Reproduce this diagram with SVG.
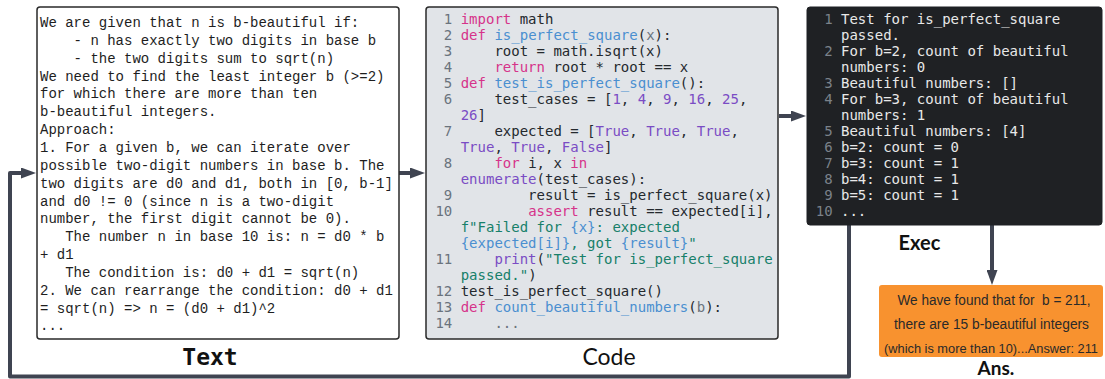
<svg xmlns="http://www.w3.org/2000/svg" width="1105" height="379" viewBox="0 0 1105 379">
<style>
.panel{stroke:#2a2a2a;stroke-width:1.5}
.mono{font-family:"Liberation Mono","DejaVu Sans Mono",monospace;font-size:14px;fill:#1e1e1e;white-space:pre}
.code{font-family:"DejaVu Sans Mono","Liberation Mono",monospace;font-size:14px;fill:#24292e;white-space:pre}
.ln{fill:#6a737d;text-anchor:end}
.kw{fill:#d6338a}
.fn{fill:#4a8fd0}
.nm{fill:#7a4cc4}
.st{fill:#17806a}
.ip{fill:#4a8fd0}
.pm{fill:#6a737d}
.ex{font-family:"DejaVu Sans Mono","Liberation Mono",monospace;font-size:14px;fill:#e8e8e8;white-space:pre}
.exln{fill:#7b828a;text-anchor:end}
.lbl{text-anchor:middle;fill:#111}
.ans{font-family:"Liberation Sans",Arial,sans-serif;font-size:14px;fill:#2a2a2a;text-anchor:middle;white-space:pre}
.conn{fill:none;stroke:#3f4451;stroke-width:4;stroke-linejoin:round;marker-end:url(#ah)}
</style>
<defs>
<marker id="ah" markerUnits="userSpaceOnUse" viewBox="0 0 15 11" refX="8" refY="5.5" markerWidth="15" markerHeight="11" orient="auto">
<path d="M0,0 L15,5.5 L0,11 z" fill="#3f4451"/>
</marker>
</defs>

<g id="connectors">
<path class="conn" d="M399,173 H418"/>
<path class="conn" d="M779,116 H799"/>
<path class="conn" d="M992,225 V278"/>
<path class="conn" d="M849,225 V376.5 H10 V173 H29"/>
</g>

<g id="text-node">
<rect class="panel" x="37" y="7" width="362" height="332" rx="3" fill="#ffffff"/>
<text class="mono" x="40" y="27">We are given that n is b-beautiful if:</text>
<text class="mono" x="40" y="44.85">    - n has exactly two digits in base b</text>
<text class="mono" x="40" y="62.7">    - the two digits sum to sqrt(n)</text>
<text class="mono" x="40" y="80.55">We need to find the least integer b (&gt;=2)</text>
<text class="mono" x="40" y="98.4">for which there are more than ten</text>
<text class="mono" x="40" y="116.25">b-beautiful integers.</text>
<text class="mono" x="40" y="134.1">Approach:</text>
<text class="mono" x="40" y="151.95">1. For a given b, we can iterate over</text>
<text class="mono" x="40" y="169.8">possible two-digit numbers in base b. The</text>
<text class="mono" x="40" y="187.65">two digits are d0 and d1, both in [0, b-1]</text>
<text class="mono" x="40" y="205.5">and d0 != 0 (since n is a two-digit</text>
<text class="mono" x="40" y="223.35">number, the first digit cannot be 0).</text>
<text class="mono" x="40" y="241.2">   The number n in base 10 is: n = d0 * b</text>
<text class="mono" x="40" y="259.05">+ d1</text>
<text class="mono" x="40" y="276.9">   The condition is: d0 + d1 = sqrt(n)</text>
<text class="mono" x="40" y="294.75">2. We can rearrange the condition: d0 + d1</text>
<text class="mono" x="40" y="312.6">= sqrt(n) =&gt; n = (d0 + d1)^2</text>
<text class="mono" x="40" y="330.45">...</text>
<text class="lbl" x="210" y="365" style="font-family:'DejaVu Sans Mono',monospace;font-weight:bold;font-size:23px">Text</text>
</g>

<g id="code-node">
<rect class="panel" x="426" y="7" width="352" height="332" rx="3" fill="#e1e4e8"/>
<text class="code" y="24"><tspan class="ln" x="452.3">1</tspan><tspan x="460.7" class="kw">import</tspan> math</text>
<text class="code" y="40"><tspan class="ln" x="452.3">2</tspan><tspan x="460.7" class="kw">def</tspan> <tspan class="fn">is_perfect_square</tspan>(<tspan class="pm">x</tspan>):</text>
<text class="code" y="56"><tspan class="ln" x="452.3">3</tspan><tspan x="460.7">    root = math.isqrt(x)</tspan></text>
<text class="code" y="72"><tspan class="ln" x="452.3">4</tspan><tspan x="460.7">    </tspan><tspan class="kw">return</tspan> root * root == x</text>
<text class="code" y="88"><tspan class="ln" x="452.3">5</tspan><tspan x="460.7" class="kw">def</tspan> <tspan class="fn">test_is_perfect_square</tspan>():</text>
<text class="code" y="104"><tspan class="ln" x="452.3">6</tspan><tspan x="460.7">    test_cases = [</tspan><tspan class="nm">1</tspan>, <tspan class="nm">4</tspan>, <tspan class="nm">9</tspan>, <tspan class="nm">16</tspan>, <tspan class="nm">25</tspan>,</text>
<text class="code" y="120"><tspan x="460.7" class="nm">26</tspan>]</text>
<text class="code" y="136"><tspan class="ln" x="452.3">7</tspan><tspan x="460.7">    expected = [</tspan><tspan class="nm">True</tspan>, <tspan class="nm">True</tspan>, <tspan class="nm">True</tspan>,</text>
<text class="code" y="152"><tspan x="460.7" class="nm">True</tspan>, <tspan class="nm">True</tspan>, <tspan class="nm">False</tspan>]</text>
<text class="code" y="168"><tspan class="ln" x="452.3">8</tspan><tspan x="460.7">    </tspan><tspan class="kw">for</tspan> i, x <tspan class="kw">in</tspan></text>
<text class="code" y="184"><tspan x="460.7" class="nm">enumerate</tspan>(test_cases):</text>
<text class="code" y="200"><tspan class="ln" x="452.3">9</tspan><tspan x="460.7">        result = is_perfect_square(x)</tspan></text>
<text class="code" y="216"><tspan class="ln" x="452.3">10</tspan><tspan x="460.7">        </tspan><tspan class="kw">assert</tspan> result == expected[i],</text>
<text class="code" y="232"><tspan x="460.7" class="st">f"Failed for </tspan><tspan class="ip">{x}</tspan><tspan class="st">: expected</tspan></text>
<text class="code" y="248"><tspan x="460.7" class="ip">{expected[i]}</tspan><tspan class="st">, got </tspan><tspan class="ip">{result}</tspan><tspan class="st">"</tspan></text>
<text class="code" y="264"><tspan class="ln" x="452.3">11</tspan><tspan x="460.7">    </tspan><tspan class="nm">print</tspan>(<tspan class="st">"Test for is_perfect_square</tspan></text>
<text class="code" y="280"><tspan x="460.7" class="st">passed."</tspan>)</text>
<text class="code" y="296"><tspan class="ln" x="452.3">12</tspan><tspan x="460.7">test_is_perfect_square()</tspan></text>
<text class="code" y="312"><tspan class="ln" x="452.3">13</tspan><tspan x="460.7" class="kw">def</tspan> <tspan class="fn">count_beautiful_numbers</tspan>(<tspan class="pm">b</tspan>):</text>
<text class="code" y="328"><tspan class="ln" x="452.3">14</tspan><tspan x="460.7" class="pm">    ...</tspan></text>
<text class="lbl" x="609" y="365" style="font-family:Lato,'Noto Sans',sans-serif;font-size:23px">Code</text>
</g>

<g id="exec-node">
<rect x="807" y="7" width="295" height="218" rx="3" fill="#1f2124" stroke="#1f2124"/>
<text class="ex" y="24"><tspan class="exln" x="832.6">1</tspan><tspan x="841">Test for is_perfect_square</tspan></text>
<text class="ex" y="40"><tspan x="841">passed.</tspan></text>
<text class="ex" y="56"><tspan class="exln" x="832.6">2</tspan><tspan x="841">For b=2, count of beautiful</tspan></text>
<text class="ex" y="72"><tspan x="841">numbers: 0</tspan></text>
<text class="ex" y="88"><tspan class="exln" x="832.6">3</tspan><tspan x="841">Beautiful numbers: []</tspan></text>
<text class="ex" y="104"><tspan class="exln" x="832.6">4</tspan><tspan x="841">For b=3, count of beautiful</tspan></text>
<text class="ex" y="120"><tspan x="841">numbers: 1</tspan></text>
<text class="ex" y="136"><tspan class="exln" x="832.6">5</tspan><tspan x="841">Beautiful numbers: [4]</tspan></text>
<text class="ex" y="152"><tspan class="exln" x="832.6">6</tspan><tspan x="841">b=2: count = 0</tspan></text>
<text class="ex" y="168"><tspan class="exln" x="832.6">7</tspan><tspan x="841">b=3: count = 1</tspan></text>
<text class="ex" y="184"><tspan class="exln" x="832.6">8</tspan><tspan x="841">b=4: count = 1</tspan></text>
<text class="ex" y="200"><tspan class="exln" x="832.6">9</tspan><tspan x="841">b=5: count = 1</tspan></text>
<text class="ex" y="216"><tspan class="exln" x="832.6">10</tspan><tspan x="841">...</tspan></text>
<text class="lbl" x="919.5" y="250" style="font-family:Lato,'Noto Sans',sans-serif;font-weight:bold;font-size:20px">Exec</text>
</g>

<g id="ans-node">
<rect x="879" y="285" width="224" height="72" rx="3" fill="#f8922f"/>
<text class="ans" x="994" y="305" textLength="193" lengthAdjust="spacingAndGlyphs">We have found that for  b = 211,</text>
<text class="ans" x="991.5" y="329" textLength="195" lengthAdjust="spacingAndGlyphs">there are 15 b-beautiful integers</text>
<text class="ans" x="991" y="353" textLength="214" lengthAdjust="spacingAndGlyphs" style="font-size:13px">(which is more than 10)...Answer: 211</text>
<text class="lbl" x="996" y="375" style="font-family:Lato,'Noto Sans',sans-serif;font-weight:bold;font-size:19px">Ans.</text>
</g>
</svg>
